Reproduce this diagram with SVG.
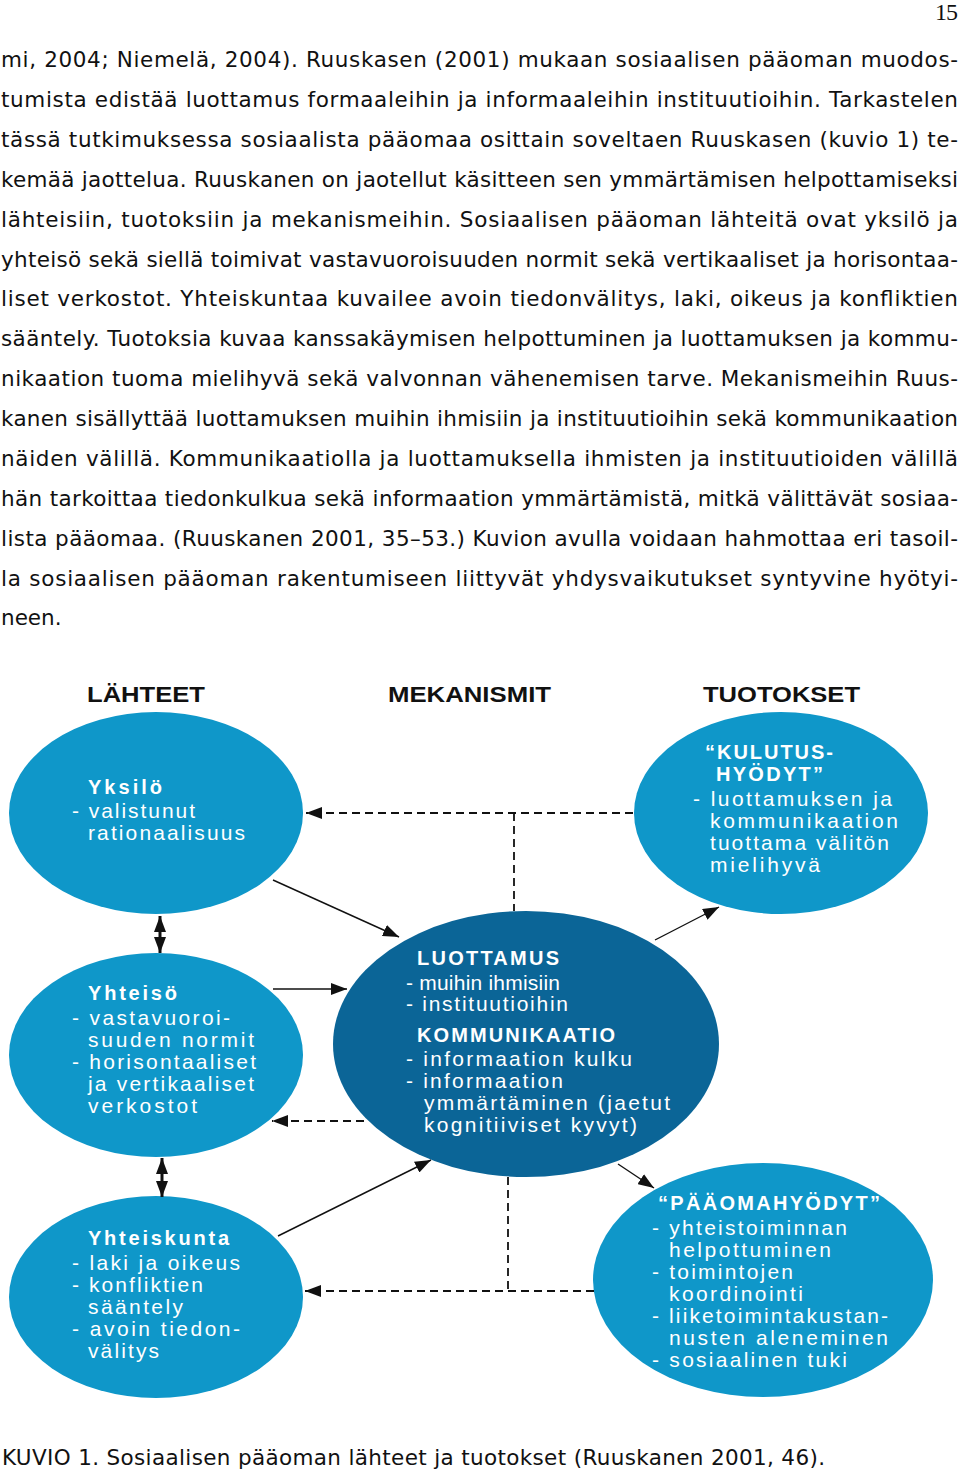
<svg xmlns="http://www.w3.org/2000/svg" width="960" height="1471" viewBox="0 0 960 1471">
<style>
.body{font-family:"DejaVu Sans","Liberation Sans",sans-serif;font-size:21.5px;fill:#111}
.hdr{font-family:"Liberation Sans",Arial,sans-serif;font-size:22px;font-weight:bold;fill:#111}
.tt{font-family:"Liberation Sans",Arial,sans-serif;font-size:20px;font-weight:bold;fill:#fff}
.tx{font-family:"Liberation Sans",Arial,sans-serif;font-size:21px;fill:#fff}
.lb{fill:#0f97c9}
.db{fill:#0b6597}
.sl{stroke:#111;stroke-width:1.4;fill:none}
.ds{stroke:#111;stroke-width:1.8;fill:none;stroke-dasharray:8 5}
.dbl{stroke:#111;stroke-width:3;fill:none}
</style>
<defs>
<marker id="ah" viewBox="0 0 16 12" refX="16" refY="6" markerWidth="16" markerHeight="12" markerUnits="userSpaceOnUse" orient="auto-start-reverse">
<path d="M0,0 L16,6 L0,12 z" fill="#111"/>
</marker>
</defs>
<rect width="960" height="1471" fill="#fff"/>
<text x="935" y="20" font-family="Liberation Serif,serif" font-size="24" fill="#111" textLength="23">15</text>
<g id="paragraph" class="body">
<text x="1" y="67" textLength="957" lengthAdjust="spacing">mi, 2004; Niemelä, 2004). Ruuskasen (2001) mukaan sosiaalisen pääoman muodos-</text>
<text x="1" y="107" textLength="957" lengthAdjust="spacing">tumista edistää luottamus formaaleihin ja informaaleihin instituutioihin. Tarkastelen</text>
<text x="1" y="147" textLength="957" lengthAdjust="spacing">tässä tutkimuksessa sosiaalista pääomaa osittain soveltaen Ruuskasen (kuvio 1) te-</text>
<text x="1" y="187" textLength="957" lengthAdjust="spacing">kemää jaottelua. Ruuskanen on jaotellut käsitteen sen ymmärtämisen helpottamiseksi</text>
<text x="1" y="227" textLength="957" lengthAdjust="spacing">lähteisiin, tuotoksiin ja mekanismeihin. Sosiaalisen pääoman lähteitä ovat yksilö ja</text>
<text x="1" y="267" textLength="957" lengthAdjust="spacing">yhteisö sekä siellä toimivat vastavuoroisuuden normit sekä vertikaaliset ja horisontaa-</text>
<text x="1" y="306" textLength="957" lengthAdjust="spacing">liset verkostot. Yhteiskuntaa kuvailee avoin tiedonvälitys, laki, oikeus ja konfliktien</text>
<text x="1" y="346" textLength="957" lengthAdjust="spacing">sääntely. Tuotoksia kuvaa kanssakäymisen helpottuminen ja luottamuksen ja kommu-</text>
<text x="1" y="386" textLength="957" lengthAdjust="spacing">nikaation tuoma mielihyvä sekä valvonnan vähenemisen tarve. Mekanismeihin Ruus-</text>
<text x="1" y="426" textLength="957" lengthAdjust="spacing">kanen sisällyttää luottamuksen muihin ihmisiin ja instituutioihin sekä kommunikaation</text>
<text x="1" y="466" textLength="957" lengthAdjust="spacing">näiden välillä. Kommunikaatiolla ja luottamuksella ihmisten ja instituutioiden välillä</text>
<text x="1" y="506" textLength="957" lengthAdjust="spacing">hän tarkoittaa tiedonkulkua sekä informaation ymmärtämistä, mitkä välittävät sosiaa-</text>
<text x="1" y="546" textLength="957" lengthAdjust="spacing">lista pääomaa. (Ruuskanen 2001, 35–53.) Kuvion avulla voidaan hahmottaa eri tasoil-</text>
<text x="1" y="586" textLength="957" lengthAdjust="spacing">la sosiaalisen pääoman rakentumiseen liittyvät yhdysvaikutukset syntyvine hyötyi-</text>
<text x="1" y="625">neen.</text>
</g>
<g id="headers" class="hdr">
<text x="87" y="702" textLength="118" lengthAdjust="spacingAndGlyphs">LÄHTEET</text>
<text x="388" y="702" textLength="163" lengthAdjust="spacingAndGlyphs">MEKANISMIT</text>
<text x="703" y="702" textLength="157" lengthAdjust="spacingAndGlyphs">TUOTOKSET</text>
</g>
<g id="yksilo">
<ellipse class="lb" cx="156" cy="813" rx="147" ry="101"/>
<text class="tt" x="88" y="794" textLength="74">Yksilö</text>
<text class="tx" x="72" y="818" textLength="123">- valistunut</text>
<text class="tx" x="88" y="840" textLength="157">rationaalisuus</text>
</g>
<g id="kulutushyodyt">
<ellipse class="lb" cx="781" cy="813" rx="147" ry="101"/>
<text class="tt" x="705" y="759" textLength="128">“KULUTUS-</text>
<text class="tt" x="716" y="781" textLength="107">HYÖDYT”</text>
<text class="tx" x="693" y="806" textLength="199">- luottamuksen ja</text>
<text class="tx" x="710" y="828" textLength="188">kommunikaation</text>
<text class="tx" x="710" y="850" textLength="179">tuottama välitön</text>
<text class="tx" x="710" y="872" textLength="110">mielihyvä</text>
</g>
<g id="mekanismit">
<ellipse class="db" cx="526" cy="1044" rx="193" ry="133"/>
<text class="tt" x="417" y="965" textLength="142">LUOTTAMUS</text>
<text class="tx" x="406" y="990" textLength="154">- muihin ihmisiin</text>
<text class="tx" x="406" y="1011" textLength="162">- instituutioihin</text>
<text class="tt" x="417" y="1042" textLength="198">KOMMUNIKAATIO</text>
<text class="tx" x="406" y="1066" textLength="226">- informaation kulku</text>
<text class="tx" x="406" y="1088" textLength="157">- informaation</text>
<text class="tx" x="424" y="1110" textLength="246">ymmärtäminen (jaetut</text>
<text class="tx" x="424" y="1132" textLength="213">kognitiiviset kyvyt)</text>
</g>
<g id="yhteiso">
<ellipse class="lb" cx="156" cy="1055" rx="147" ry="102"/>
<text class="tt" x="88" y="1000" textLength="89">Yhteisö</text>
<text class="tx" x="72" y="1025" textLength="158">- vastavuoroi-</text>
<text class="tx" x="88" y="1047" textLength="166">suuden normit</text>
<text class="tx" x="72" y="1069" textLength="184">- horisontaaliset</text>
<text class="tx" x="88" y="1091" textLength="166">ja vertikaaliset</text>
<text class="tx" x="88" y="1113" textLength="109">verkostot</text>
</g>
<g id="yhteiskunta">
<ellipse class="lb" cx="156" cy="1297" rx="147" ry="101"/>
<text class="tt" x="88" y="1245" textLength="141">Yhteiskunta</text>
<text class="tx" x="72" y="1270" textLength="168">- laki ja oikeus</text>
<text class="tx" x="72" y="1292" textLength="131">- konfliktien</text>
<text class="tx" x="88" y="1314" textLength="95">sääntely</text>
<text class="tx" x="72" y="1336" textLength="168">- avoin tiedon-</text>
<text class="tx" x="88" y="1358" textLength="71">välitys</text>
</g>
<g id="paaomahyodyt">
<ellipse class="lb" cx="763" cy="1280" rx="170" ry="117"/>
<text class="tt" x="658" y="1210" textLength="222">“PÄÄOMAHYÖDYT”</text>
<text class="tx" x="652" y="1235" textLength="195">- yhteistoiminnan</text>
<text class="tx" x="669" y="1257" textLength="162">helpottuminen</text>
<text class="tx" x="652" y="1279" textLength="141">- toimintojen</text>
<text class="tx" x="669" y="1301" textLength="134">koordinointi</text>
<text class="tx" x="652" y="1323" textLength="236">- liiketoimintakustan-</text>
<text class="tx" x="669" y="1345" textLength="219">nusten aleneminen</text>
<text class="tx" x="652" y="1367" textLength="195">- sosiaalinen tuki</text>
</g>
<g id="connectors">
<line class="ds" x1="633" y1="813" x2="306" y2="813" marker-end="url(#ah)"/>
<line class="ds" x1="514" y1="813" x2="514" y2="911"/>
<line class="sl" x1="273" y1="880" x2="399" y2="937" marker-end="url(#ah)"/>
<line class="sl" x1="655" y1="940" x2="719" y2="907" marker-end="url(#ah)"/>
<line class="dbl" x1="160" y1="916" x2="160" y2="953" marker-start="url(#ah)" marker-end="url(#ah)"/>
<line class="sl" x1="273" y1="989" x2="347" y2="989" marker-end="url(#ah)"/>
<line class="ds" x1="364" y1="1121" x2="272" y2="1121" marker-end="url(#ah)"/>
<line class="dbl" x1="162" y1="1158" x2="162" y2="1197" marker-start="url(#ah)" marker-end="url(#ah)"/>
<line class="sl" x1="278" y1="1236" x2="431" y2="1160" marker-end="url(#ah)"/>
<line class="ds" x1="594" y1="1291" x2="305" y2="1291" marker-end="url(#ah)"/>
<line class="ds" x1="508" y1="1177" x2="508" y2="1291"/>
<line class="sl" x1="618" y1="1164" x2="654" y2="1188" marker-end="url(#ah)"/>
</g>
<text class="body" x="2" y="1465" textLength="823" lengthAdjust="spacing">KUVIO 1. Sosiaalisen pääoman lähteet ja tuotokset (Ruuskanen 2001, 46).</text>
</svg>
